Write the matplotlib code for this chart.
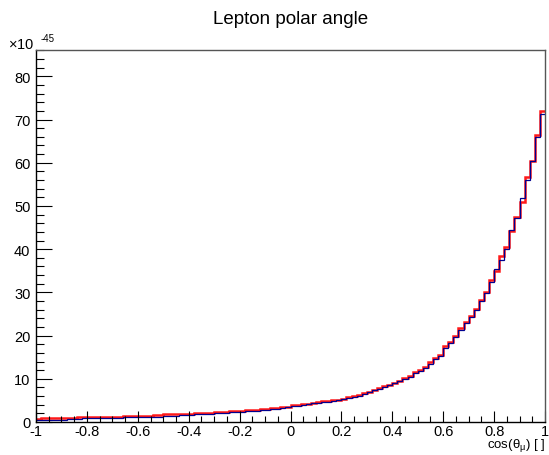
import matplotlib
matplotlib.use("Agg")
import matplotlib.pyplot as plt
import numpy as np
from matplotlib.ticker import MultipleLocator, FuncFormatter

# ---- data (values in units of 1e-45) ----
bin_edges = np.linspace(-1.0, 1.0, 101)

red_values = [
    0.80, 0.82, 0.84, 0.85, 0.86, 0.87, 0.88, 0.90,
    1.10, 1.12, 1.14, 1.16, 1.18, 1.20, 1.22, 1.24, 1.26,
    1.40, 1.42, 1.44, 1.46, 1.48, 1.50, 1.52, 1.54,
    1.75, 1.78, 1.80, 1.82, 1.85,
    1.95, 2.00, 2.02, 2.05, 2.08,
    2.22, 2.25, 2.28,
    2.50, 2.55, 2.58,
    2.75, 2.80, 2.83,
    2.98, 3.02,
    3.22, 3.28,
    3.50, 3.58,
    3.90, 3.98,
    4.18, 4.25,
    4.45, 4.55,
    4.75, 4.85,
    5.05, 5.20,
    5.40, 5.70, 5.95, 6.20, 6.60, 7.00, 7.50, 7.85, 8.30, 8.65,
    9.05, 9.60, 10.1, 10.7, 11.5, 12.1, 12.7, 13.8, 14.8, 15.4,
    17.5, 18.5, 20.0, 21.7, 23.1, 24.6, 26.2, 28.3, 30.0, 32.9,
    35.0, 38.4, 40.6, 44.1, 47.5, 51.0, 56.8, 60.5, 66.3, 72.0,
]

blue_values = [
    0.50, 0.52, 0.54, 0.55, 0.56, 0.57, 0.58, 0.60,
    0.80, 0.82, 0.84, 0.86, 0.88, 0.90, 0.92, 0.94, 0.96,
    1.10, 1.12, 1.14, 1.16, 1.18, 1.20, 1.22, 1.24,
    1.40, 1.45, 1.50, 1.55, 1.60,
    1.70, 1.75, 1.78, 1.82, 1.86,
    1.98, 2.02, 2.06,
    2.28, 2.32, 2.36,
    2.52, 2.58, 2.62,
    2.78, 2.84,
    3.02, 3.08,
    3.32, 3.40,
    3.72, 3.80,
    4.02, 4.10,
    4.30, 4.42,
    4.62, 4.74,
    4.92, 5.10,
    5.30, 5.55, 5.85, 6.10, 6.45, 6.90, 7.35, 7.75, 8.15, 8.55,
    8.95, 9.45, 9.95, 10.5, 11.3, 11.9, 12.6, 13.5, 14.6, 15.3,
    17.2, 18.2, 19.7, 21.4, 22.8, 24.3, 26.0, 28.0, 29.8, 32.5,
    35.4, 37.6, 40.0, 44.4, 47.3, 51.8, 56.0, 60.3, 66.0, 71.3,
]

title = "Lepton polar angle"
xlabel = r"cos($\theta_{\mu}$) [ ]"

plt.rcParams['font.family'] = ['Liberation Sans', 'DejaVu Sans']
plt.rcParams['mathtext.fontset'] = 'custom'
plt.rcParams['mathtext.rm'] = 'Liberation Sans'
plt.rcParams['mathtext.it'] = 'Liberation Sans'

W, H = 549, 456
fig = plt.figure(figsize=(W / 100, H / 100), dpi=100)
left, right, bottom, top = 36, 545, 423, 50.5
ax = fig.add_axes([left / W, (H - bottom) / H, (right - left) / W, (bottom - top) / H])

ax.stairs(red_values, bin_edges, baseline=None, color='#ff0000', lw=1.8, alpha=0.9)
ax.stairs(blue_values, bin_edges, baseline=None, color='#00008f', lw=0.9)

ax.set_xlim(-1, 1)
ax.set_ylim(0, 86.2)

ax.xaxis.set_major_locator(MultipleLocator(0.2))
ax.xaxis.set_minor_locator(MultipleLocator(0.05))
ax.yaxis.set_major_locator(MultipleLocator(10))
ax.yaxis.set_minor_locator(MultipleLocator(2))
ax.xaxis.set_major_formatter(FuncFormatter(lambda v, p: "%g" % round(v, 2)))
ax.yaxis.set_major_formatter(FuncFormatter(lambda v, p: "%d" % round(v)))

ax.tick_params(axis='both', which='both', direction='in', top=False, right=False,
               labelsize=10.5, width=0.8, color='black')
ax.tick_params(axis='y', which='major', length=11.5, pad=4)
ax.tick_params(axis='y', which='minor', length=5.8)
ax.tick_params(axis='x', which='major', length=8, pad=1.5)
ax.tick_params(axis='x', which='minor', length=4)

for s in ax.spines.values():
    s.set_linewidth(1.0)
    s.set_color('black')
ax.spines['top'].set_color('#555555')
ax.spines['right'].set_color('#555555')

fig.text(291 / W, 1 - 20 / H, title, ha='center', va='center', fontsize=13.5)
fig.text(545 / W, 1 - 446 / H, xlabel, ha='right', va='center', fontsize=9.5)
fig.text(8 / W, 1 - 45 / H, r"$\times$10", ha='left', va='center', fontsize=10.5)
fig.text(41 / W, 1 - 39 / H, "-45", ha='left', va='center', fontsize=7)

fig.savefig("out.png", dpi=100)
